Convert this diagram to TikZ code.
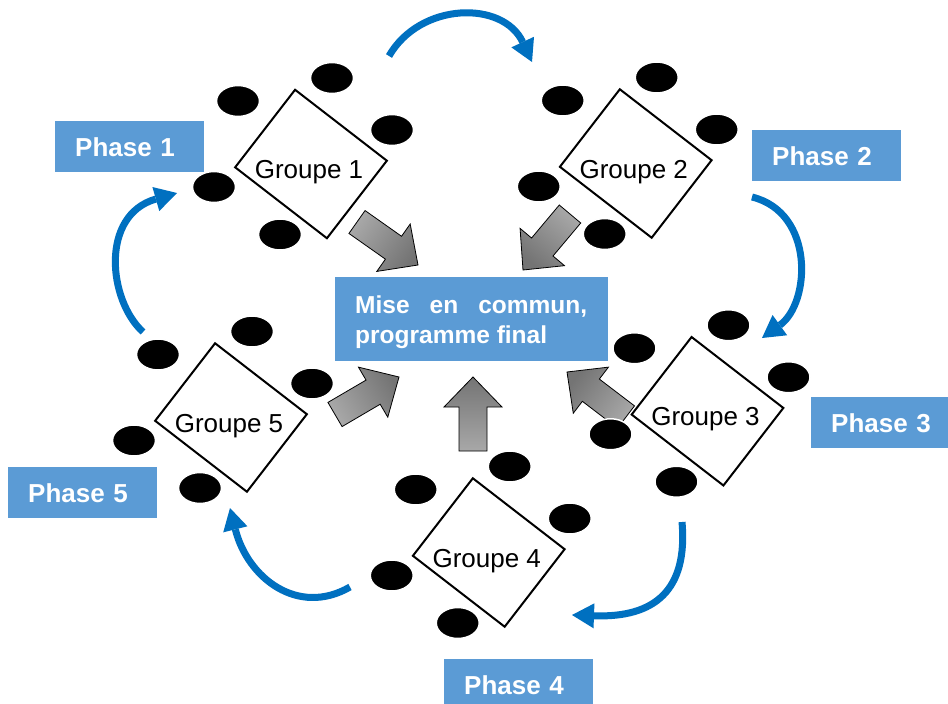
\documentclass[tikz,border=0pt]{standalone}
\usepackage{fontspec}
\setmainfont{Liberation Sans}
\usetikzlibrary{shapes.geometric,arrows.meta,calc}
\definecolor{phaseblue}{HTML}{5B9BD5}
\definecolor{cycblue}{HTML}{0070C0}
\definecolor{greylight}{HTML}{A8A8A8}
\definecolor{greydark}{HTML}{747474}
\tikzset{
  phasebox/.style={fill=phaseblue, text=white, font=\fontsize{26}{30}\selectfont\bfseries,
    minimum width=149pt, minimum height=51pt, inner xsep=20pt, inner ysep=0pt,
    text width=109pt, align=left, text height=19pt, text depth=0pt, anchor=north west},
  hubbox/.style={fill=phaseblue, minimum width=273pt, minimum height=84pt, inner sep=0pt, anchor=north west},
  hubtext/.style={text=white, font=\fontsize{24.5}{30}\selectfont\bfseries, inner sep=0pt, anchor=base west},
  tablebox/.style={rectangle, draw=black, fill=white, line width=2pt, minimum width=116pt,
    minimum height=98pt, inner sep=0pt, rotate=-37.7},
  seat/.style={ellipse, fill=black, draw=white, line width=1.5pt, minimum width=43pt,
    minimum height=31pt, inner sep=0pt},
  grouptext/.style={font=\fontsize{26}{30}\selectfont, inner sep=0pt, anchor=base},
  garrow/.style={draw=black, line width=0.8pt, top color=greydark, bottom color=greylight},
  cycarrow/.style={draw=cycblue, line width=7pt, -{Triangle[length=22pt,width=25pt,line width=0pt]}},
  groupe/.pic={
    \node[tablebox] (-t) at (0,0) {};
    \node[seat] (-s1) at (-73,-63) {};
    \node[seat] (-s2) at (21,-86) {};
    \node[seat] (-s3) at (81,-34) {};
    \node[seat] (-s4) at (-97,23) {};
    \node[seat] (-s5) at (-31,70.5) {};
    \node[grouptext] (-l) at (-2,14.5) {#1};
  }
}
\newcommand\blockarrow[3]{%
  \coordinate (#1-n) at ($(#2)!30pt!(#1)$);
  \draw[garrow, shading angle=#3] ($(#1)!14pt!90:(#2)$) -- ($(#1-n)!14pt!90:(#2)$)
    -- ($(#1-n)!29pt!90:(#2)$) -- (#2) -- ($(#1-n)!29pt!-90:(#2)$)
    -- ($(#1-n)!14pt!-90:(#2)$) -- ($(#1)!14pt!-90:(#2)$) -- cycle;}
\begin{document}
\begin{tikzpicture}[x=1pt,y=-1pt]
\fill[white] (0,0) rectangle (948,704);
\clip (0,0) rectangle (948,704);
% phase labels
\node[phasebox] (p1) at (55,121) {Phase 1};
\node[phasebox] (p2) at (752,130) {Phase 2};
\node[phasebox] (p3) at (811,397) {Phase 3};
\node[phasebox] (p4) at (444,659) {Phase 4};
\node[phasebox] (p5) at (8,467) {Phase 5};
% hub
\node[hubbox] (hub) at (335,277) {};
\node[hubtext] (hubl1) at (355,313) {\makebox[232pt][s]{Mise en commun,}};
\node[hubtext] (hubl2) at (355,343) {programme final};
% grey block arrows
\coordinate (a1t) at (357,222); \coordinate (a1p) at (418,265);
\coordinate (a2t) at (570,214); \coordinate (a2p) at (523,270);
\coordinate (a3t) at (626,417); \coordinate (a3p) at (567,372);
\coordinate (a4t) at (473,451); \coordinate (a4p) at (473,377);
\coordinate (a5t) at (335,414.5); \coordinate (a5p) at (399,377);
\blockarrow{a1t}{a1p}{-125}
\blockarrow{a2t}{a2p}{140}
\blockarrow{a3t}{a3p}{52.7}
\blockarrow{a4t}{a4p}{0}
\blockarrow{a5t}{a5p}{-59.6}
% blue cycle arrows
\coordinate (c12s) at (389,56); \coordinate (c12e) at (532,62);
\coordinate (c23s) at (752,197); \coordinate (c23e) at (762,338);
\coordinate (c34s) at (682,522); \coordinate (c34e) at (572,615);
\coordinate (c45s) at (350,587); \coordinate (c45e) at (230,508);
\coordinate (c51s) at (143,332); \coordinate (c51e) at (177,193);
\draw[cycarrow] (c12s) .. controls (420,2) and (503,0) .. (c12e);
\draw[cycarrow] (c23s) .. controls (815,212.6) and (810.6,303) .. (c23e);
\draw[cycarrow] (c34s) .. controls (688,590) and (655,618) .. (c34e);
\draw[cycarrow] (c45s) .. controls (298,617) and (247.5,578) .. (c45e);
\draw[cycarrow] (c51s) .. controls (108,300) and (100,215) .. (c51e);
% groups
\pic (g1) at (311,164) {groupe=Groupe 1};
\pic (g2) at (635.75,163.5) {groupe=Groupe 2};
\pic (g3) at (707.5,411.25) {groupe=Groupe 3};
\pic (g4) at (488.75,552.5) {groupe=Groupe 4};
\pic (g5) at (231,417.5) {groupe=Groupe 5};
\end{tikzpicture}
\end{document}
